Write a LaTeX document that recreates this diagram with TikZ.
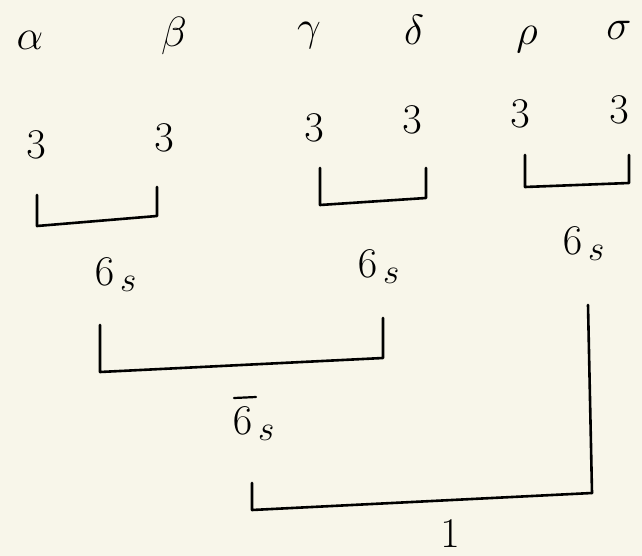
\documentclass[tikz,border=0pt]{standalone}
\definecolor{paper}{HTML}{F8F6EA}
\begin{document}
\begin{tikzpicture}[x=1pt,y=-1pt,
  lbl/.style={font=\fontsize{24.88}{30}\selectfont, inner sep=0pt, scale=1.7},
  brk/.style={line width=2.6pt, line join=round, line cap=round}]
\fill[paper] (0,0) rectangle (642,556);
\useasboundingbox (0,0) rectangle (642,556);
% top letters
\node[lbl] (la) at (30,40) {$\alpha$};
\node[lbl] (lb) at (174,36) {$\beta$};
\node[lbl] (lg) at (309,36) {$\gamma$};
\node[lbl] (ld) at (414,30) {$\delta$};
\node[lbl] (lr) at (527,40) {$\rho$};
\node[lbl] (ls) at (619,30) {$\sigma$};
% threes
\node[lbl] (t1) at (36,145) {$3$};
\node[lbl] (t2) at (164,138) {$3$};
\node[lbl] (t3) at (314,128) {$3$};
\node[lbl] (t4) at (412,120) {$3$};
\node[lbl] (t5) at (520,114) {$3$};
\node[lbl] (t6) at (619,110) {$3$};
% first-level brackets
\coordinate (b1a) at (37,195); \coordinate (b1b) at (37,226);
\coordinate (b1c) at (157,216); \coordinate (b1d) at (157,187);
\draw[brk] (b1a) -- (b1b) -- (b1c) -- (b1d);
\coordinate (b2a) at (320,168); \coordinate (b2b) at (320,205);
\coordinate (b2c) at (426,198); \coordinate (b2d) at (426,168);
\draw[brk] (b2a) -- (b2b) -- (b2c) -- (b2d);
\coordinate (b3a) at (525,155); \coordinate (b3b) at (525,187);
\coordinate (b3c) at (629,183); \coordinate (b3d) at (629,155);
\draw[brk] (b3a) -- (b3b) -- (b3c) -- (b3d);
% 6_s labels
\node[lbl] (s1) at (116,275) {$6_{\,s}$};
\node[lbl] (s2) at (379,267) {$6_{\,s}$};
\node[lbl] (s3) at (584,244) {$6_{\,s}$};
% second-level bracket
\coordinate (b4a) at (100,325); \coordinate (b4b) at (100,372);
\coordinate (b4c) at (383,358); \coordinate (b4d) at (383,318);
\draw[brk] (b4a) -- (b4b) -- (b4c) -- (b4d);
% 6bar_s
\node[lbl] (sb) at (254,424) {$6_{\,s}$};
\coordinate (bar1) at (234,398); \coordinate (bar2) at (256,397);
\draw[line width=2.2pt, line cap=round] (bar1) -- (bar2);
% final bracket
\coordinate (r1) at (588,305); \coordinate (r2) at (592,493);
\coordinate (b5a) at (252,483); \coordinate (b5b) at (252,510);
\draw[brk] (r1) -- (r2);
\draw[brk] (b5a) -- (b5b) -- (r2);
\node[lbl] (one) at (450,534) {$1$};
\end{tikzpicture}
\end{document}
